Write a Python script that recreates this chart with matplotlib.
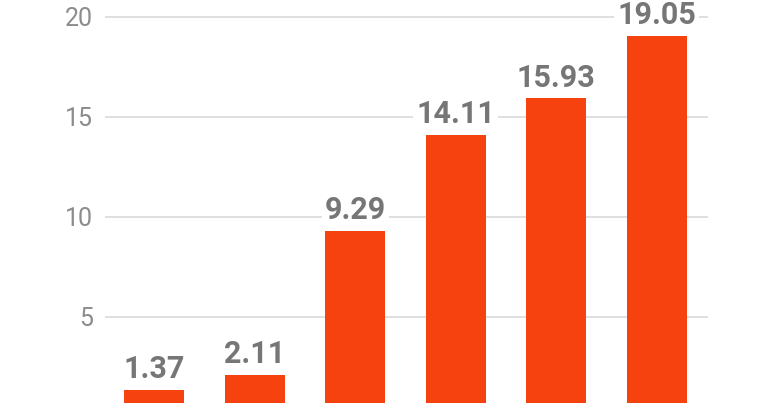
import numpy as np
import matplotlib.pyplot as plt

plt.rcParams['font.family'] = ['Roboto', 'DejaVu Sans']

# bar values
values = [1.37, 2.11, 9.29, 14.11, 15.93, 19.05]
labels = ['1.37', '2.11', '9.29', '14.11', '15.93', '19.05']
yticks = [5, 10, 15, 20]

fig = plt.figure(figsize=(7.68, 4.03), dpi=100)
ax = fig.add_axes([105 / 768, 0, (708 - 105) / 768, 1])

x = np.arange(len(values))
ax.bar(x, values, width=0.6, color='#F5420F', zorder=3)

for xi, v, lab in zip(x, values, labels):
    ax.annotate(lab, (xi, v), xytext=(0, 8.5), textcoords='offset points',
                ha='center', va='baseline', fontsize=22, fontweight='bold',
                color='#767676', zorder=4,
                bbox=dict(boxstyle='square,pad=0.1', fc='white', ec='none'))

ax.set_xlim(-0.49, 5.51)
ax.set_ylim(0.7, 20.85)
ax.set_yticks(yticks)
ax.set_xticks([])
ax.yaxis.grid(True, color='#d6d6d6', linewidth=1.1, zorder=0)
ax.set_axisbelow(True)
ax.tick_params(axis='y', length=0, pad=8.5, labelsize=18, labelcolor='#8c8c8c')
for s in ax.spines.values():
    s.set_visible(False)

fig.savefig('out.png', dpi=100)
